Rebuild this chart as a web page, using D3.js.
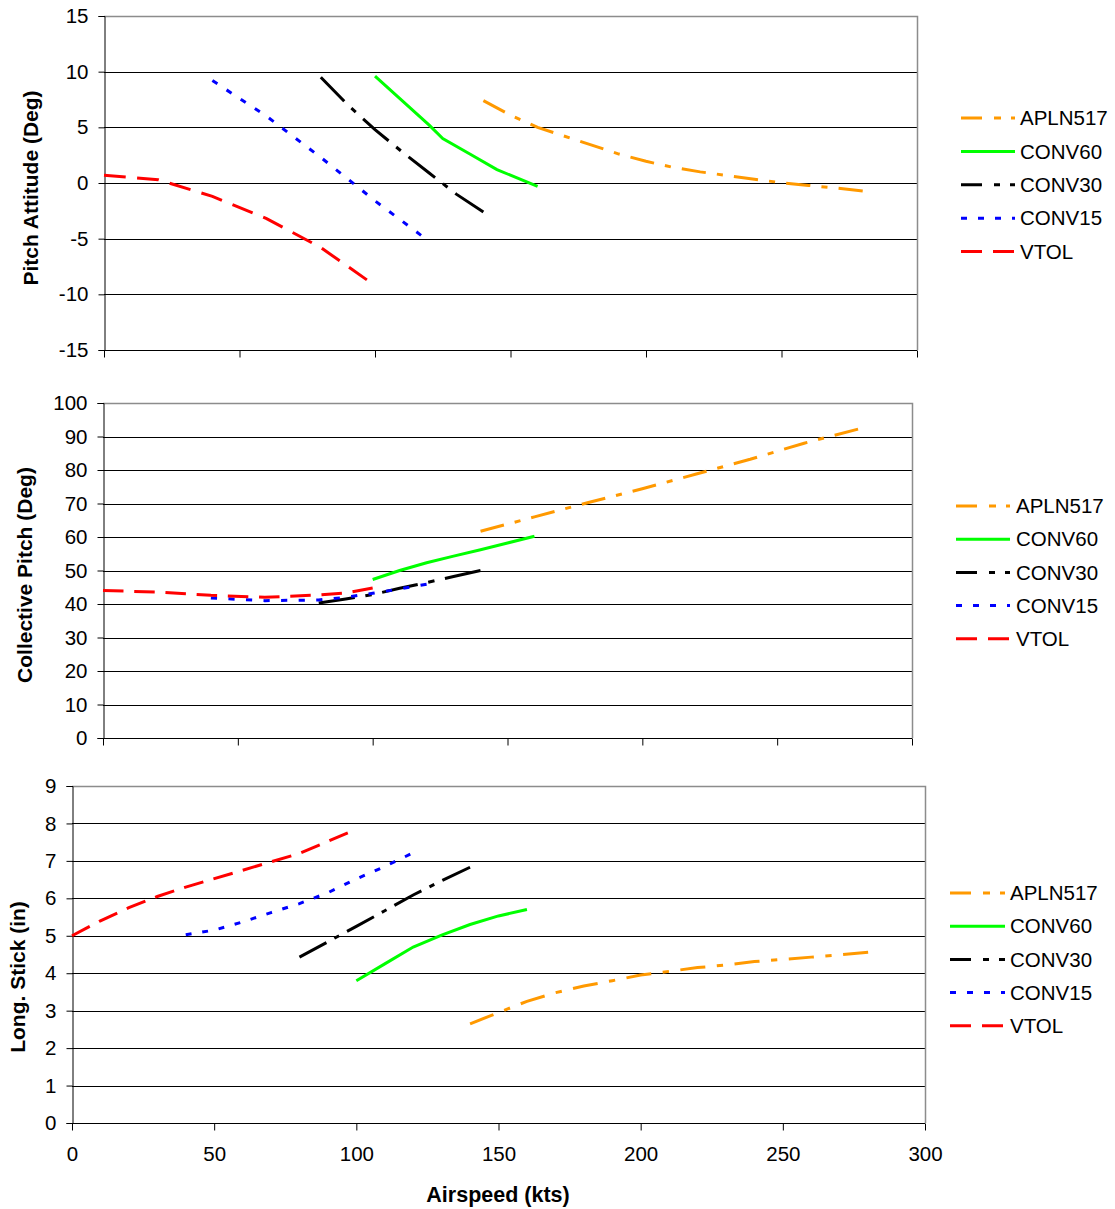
<!DOCTYPE html>
<html>
<head>
<meta charset="utf-8">
<script src="https://cdn.jsdelivr.net/npm/d3@7/dist/d3.min.js"></script>
<style>
  html, body { margin: 0; padding: 0; background: #fff; }
  svg { display: block; font-family: "Liberation Sans", Arial, sans-serif; }
</style>
</head>
<body>
<svg id="chart" width="1115" height="1209"></svg>
<script>
// Series names in legend order
const seriesNames = ["APLN517", "CONV60", "CONV30", "CONV15", "VTOL"];
const speedTicks = [0, 50, 100, 150, 200, 250, 300];

// Pitch attitude (deg) vs airspeed (kts)
const pitchAPLN517 = [[140, 7.4], [150, 6.1], [160, 5.0], [170, 4.2], [180, 3.4], [190, 2.6], [200, 1.95], [210, 1.4], [220, 1.0], [230, 0.67], [240, 0.33], [250, 0.03], [260, -0.22], [270, -0.45], [280, -0.72]];
const pitchCONV60 = [[100, 9.6], [110, 7.4], [120, 5.2], [125, 4.0], [135, 2.6], [145, 1.2], [160, -0.3]];
const pitchCONV30 = [[80, 9.5], [90, 7.0], [100, 4.8], [110, 2.8], [120, 0.9], [130, -1.0], [140, -2.6]];
const pitchCONV15 = [[40, 9.2], [60, 6.0], [80, 2.3], [100, -1.6], [117, -4.7]];
const pitchVTOL = [[0, 0.7], [20, 0.3], [40, -1.2], [60, -3.2], [80, -5.8], [97, -8.7]];
const pitchTicks = [-15, -10, -5, 0, 5, 10, 15];

// Collective pitch (deg) vs airspeed (kts)
const collAPLN517 = [[140, 61.7], [160, 66.0], [180, 70.3], [200, 74.4], [220, 78.8], [240, 83.2], [260, 88.0], [280, 92.2]];
const collCONV60 = [[100, 47.3], [110, 50.0], [120, 52.3], [130, 54.3], [140, 56.2], [150, 58.2], [160, 60.2]];
const collCONV30 = [[80, 40.3], [90, 41.5], [100, 42.8], [110, 44.7], [120, 46.4], [130, 48.2], [140, 50.0]];
const collCONV15 = [[40, 41.8], [60, 41.0], [80, 41.2], [90, 42.0], [100, 43.2], [110, 44.5], [120, 45.9]];
const collVTOL = [[0, 44.0], [20, 43.6], [40, 42.6], [60, 42.0], [80, 42.7], [90, 43.3], [100, 44.8]];
const collTicks = [0, 10, 20, 30, 40, 50, 60, 70, 80, 90, 100];

// Longitudinal stick (in) vs airspeed (kts)
const stickAPLN517 = [[140, 2.65], [150, 2.95], [160, 3.25], [170, 3.48], [180, 3.66], [190, 3.8], [200, 3.95], [210, 4.05], [220, 4.15], [230, 4.22], [240, 4.31], [250, 4.37], [260, 4.43], [270, 4.49], [280, 4.56]];
const stickCONV60 = [[100, 3.8], [110, 4.25], [120, 4.7], [130, 5.02], [140, 5.3], [150, 5.53], [160, 5.7]];
const stickCONV30 = [[80, 4.43], [90, 4.84], [100, 5.25], [110, 5.67], [120, 6.09], [130, 6.47], [140, 6.83]];
const stickCONV15 = [[40, 5.03], [50, 5.15], [60, 5.37], [70, 5.62], [80, 5.86], [90, 6.15], [100, 6.52], [110, 6.85], [119, 7.18]];
const stickVTOL = [[0, 5.0], [10, 5.4], [20, 5.75], [30, 6.05], [40, 6.3], [60, 6.75], [80, 7.2], [97, 7.75]];
const stickTicks = [0, 1, 2, 3, 4, 5, 6, 7, 8, 9];

// Line styles per series (dash patterns in px)
const styles = {
  APLN517: { color: "#FF9900", dash: [24, 11, 6, 11] },
  CONV60:  { color: "#00FF00", dash: null },
  CONV30:  { color: "#000000", dash: [34, 10, 6, 10] },
  CONV15:  { color: "#0000FF", dash: [6, 11] },
  VTOL:    { color: "#FF0000", dash: [21, 11] }
};
const legendDash = {
  APLN517: "21,12,7,10",
  CONV60: null,
  CONV30: "21,12,6,10",
  CONV15: "6,11",
  VTOL: "21,11"
};

const panels = [
  { left: 104, right: 917, top: 16, bottom: 350, ticks: pitchTicks,
    series: [pitchAPLN517, pitchCONV60, pitchCONV30, pitchCONV15, pitchVTOL],
    title: "Pitch Attitude (Deg)", titleX: 31, titleY: 188,
    legend: { x1: 961, x2: 1015, tx: 1020, y0: 118, dy: 33.4 }, xLabels: false },
  { left: 103, right: 912, top: 403, bottom: 738, ticks: collTicks,
    series: [collAPLN517, collCONV60, collCONV30, collCONV15, collVTOL],
    title: "Collective Pitch (Deg)", titleX: 25, titleY: 575,
    legend: { x1: 956, x2: 1010, tx: 1016, y0: 506, dy: 33.2 }, xLabels: false },
  { left: 72, right: 925, top: 786, bottom: 1123, ticks: stickTicks,
    series: [stickAPLN517, stickCONV60, stickCONV30, stickCONV15, stickVTOL],
    title: "Long. Stick (in)", titleX: 18, titleY: 977,
    legend: { x1: 950, x2: 1005, tx: 1010, y0: 893, dy: 33.2 }, xLabels: true }
];

// Stretch a dash pattern slightly so a path both starts and ends on a dash
function fitDash(pattern, length) {
  const period = d3.sum(pattern);
  const n = Math.max(0, Math.round((length - pattern[0]) / period));
  const k = length / (n * period + pattern[0]);
  return pattern.map(v => (v * k).toFixed(2)).join(",");
}

const svg = d3.select("#chart");

panels.forEach(p => {
  const x = d3.scaleLinear().domain([0, 300]).range([p.left, p.right]);
  const y = d3.scaleLinear().domain(d3.extent(p.ticks)).range([p.bottom, p.top]);
  const g = svg.append("g");

  // horizontal gridlines
  g.append("g").selectAll("line")
    .data(p.ticks.slice(0, -1))
    .join("line")
    .attr("x1", p.left).attr("x2", p.right)
    .attr("y1", d => Math.round(y(d)) + 0.5).attr("y2", d => Math.round(y(d)) + 0.5)
    .attr("stroke", "#000").attr("stroke-width", 1);

  // plot frame (top and right edges)
  g.append("path")
    .attr("d", `M${p.left},${p.top + 0.5}H${p.right + 0.5}V${p.bottom}`)
    .attr("fill", "none").attr("stroke", "#8c8c8c").attr("stroke-width", 1.5);

  // y axis
  const yAxis = d3.axisLeft(y).tickValues(p.ticks).tickSize(6).tickPadding(10)
    .tickFormat(d3.format("d"));
  const ya = g.append("g").attr("transform", `translate(${p.left + 0.5},0)`).call(yAxis);
  ya.select(".domain").attr("stroke", "#000");
  ya.selectAll(".tick line").attr("stroke", "#000");
  ya.selectAll(".tick text").attr("font-size", 20.5).attr("fill", "#000")
    .attr("font-family", "'Liberation Sans', Arial, sans-serif")
    .text(d => d < 0 ? "-" + Math.abs(d) : d);

  // x axis
  const xAxis = d3.axisBottom(x).tickValues(speedTicks).tickSize(7).tickPadding(16)
    .tickFormat(p.xLabels ? d3.format("d") : () => "");
  const xa = g.append("g").attr("transform", `translate(0,${p.bottom + 0.5})`).call(xAxis);
  xa.select(".domain").attr("stroke", "#000").attr("d", `M${p.left},0H${p.right}`);
  xa.selectAll(".tick line").attr("stroke", "#000");
  xa.selectAll(".tick text").attr("font-size", 20.5).attr("fill", "#000")
    .attr("font-family", "'Liberation Sans', Arial, sans-serif");

  // y axis title
  g.append("text")
    .attr("transform", `translate(${p.titleX},${p.titleY}) rotate(-90)`)
    .attr("text-anchor", "middle").attr("dy", "0.35em")
    .attr("font-size", 21).attr("font-weight", "bold").text(p.title);

  // series lines
  const line = d3.line().x(d => x(d[0])).y(d => y(d[1]));
  p.series.forEach((data, i) => {
    const s = styles[seriesNames[i]];
    const path = g.append("path")
      .datum(data)
      .attr("d", line)
      .attr("fill", "none")
      .attr("stroke", s.color)
      .attr("stroke-width", 3);
    if (s.dash) {
      path.attr("stroke-dasharray", fitDash(s.dash, path.node().getTotalLength()));
    }
  });

  // legend
  const lg = g.append("g");
  seriesNames.forEach((name, i) => {
    const ly = p.legend.y0 + i * p.legend.dy;
    lg.append("line")
      .attr("x1", p.legend.x1).attr("x2", p.legend.x2)
      .attr("y1", ly).attr("y2", ly)
      .attr("stroke", styles[name].color).attr("stroke-width", 3)
      .attr("stroke-dasharray", legendDash[name]);
    lg.append("text")
      .attr("x", p.legend.tx).attr("y", ly).attr("dy", "0.35em")
      .attr("font-size", 20.5).text(name);
  });

  if (p.xLabels) {
    g.append("text")
      .attr("x", 498).attr("y", 1194).attr("dy", "0.35em")
      .attr("text-anchor", "middle")
      .attr("font-size", 21.5).attr("font-weight", "bold").text("Airspeed (kts)");
  }
});
</script>
</body>
</html>
